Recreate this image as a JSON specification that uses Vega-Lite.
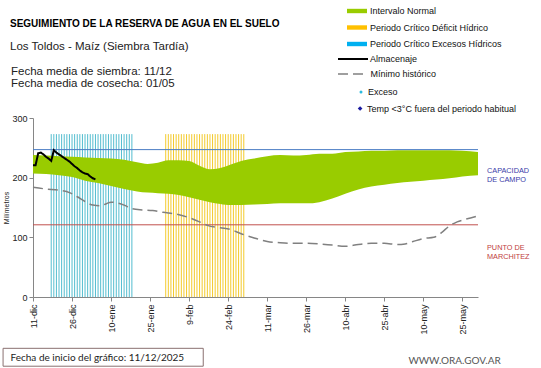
{
  "$schema": "https://vega.github.io/schema/vega-lite/v6.json",
  "width": 445,
  "height": 179,
  "autosize": {"type": "none"},
  "padding": {"left": 33, "top": 118, "right": 63, "bottom": 71},
  "background": "white",
  "title": {
    "text": "SEGUIMIENTO DE LA RESERVA DE AGUA  EN EL SUELO",
    "subtitle": "Los Toldos - Maíz  (Siembra Tardía)",
    "anchor": "start",
    "frame": "group",
    "dx": -23,
    "offset": -51.5,
    "font": "Liberation Sans",
    "fontSize": 10,
    "fontWeight": "bold",
    "color": "#000000",
    "subtitleFont": "Liberation Sans",
    "subtitleFontSize": 11.5,
    "subtitleColor": "#222222",
    "subtitlePadding": 12
  },
  "resolve": {"scale": {"strokeDash": "independent"}, "legend": {"strokeDash": "independent"}},
  "datasets": {
    "banda": [
      {"fecha": "2025-12-11", "min": 207, "max": 238},
      {"fecha": "2025-12-16", "min": 206, "max": 237},
      {"fecha": "2025-12-21", "min": 204, "max": 236},
      {"fecha": "2025-12-26", "min": 201, "max": 235},
      {"fecha": "2025-12-31", "min": 195, "max": 234},
      {"fecha": "2026-01-05", "min": 191, "max": 233},
      {"fecha": "2026-01-10", "min": 186, "max": 232},
      {"fecha": "2026-01-15", "min": 181, "max": 230},
      {"fecha": "2026-01-20", "min": 177, "max": 226},
      {"fecha": "2026-01-24", "min": 175, "max": 223},
      {"fecha": "2026-01-28", "min": 174, "max": 225},
      {"fecha": "2026-02-01", "min": 173, "max": 229},
      {"fecha": "2026-02-05", "min": 171, "max": 229},
      {"fecha": "2026-02-09", "min": 167, "max": 228},
      {"fecha": "2026-02-13", "min": 163, "max": 220},
      {"fecha": "2026-02-17", "min": 159, "max": 214},
      {"fecha": "2026-02-21", "min": 156, "max": 216},
      {"fecha": "2026-02-25", "min": 154, "max": 222},
      {"fecha": "2026-03-01", "min": 154, "max": 228},
      {"fecha": "2026-03-06", "min": 155, "max": 232},
      {"fecha": "2026-03-11", "min": 156, "max": 236},
      {"fecha": "2026-03-16", "min": 157, "max": 238},
      {"fecha": "2026-03-21", "min": 157, "max": 237},
      {"fecha": "2026-03-26", "min": 157, "max": 238},
      {"fecha": "2026-03-31", "min": 159, "max": 240},
      {"fecha": "2026-04-05", "min": 165, "max": 240},
      {"fecha": "2026-04-10", "min": 173, "max": 243},
      {"fecha": "2026-04-15", "min": 180, "max": 244},
      {"fecha": "2026-04-20", "min": 185, "max": 245},
      {"fecha": "2026-04-25", "min": 188, "max": 245},
      {"fecha": "2026-04-30", "min": 191, "max": 246},
      {"fecha": "2026-05-05", "min": 193, "max": 246},
      {"fecha": "2026-05-10", "min": 195, "max": 246},
      {"fecha": "2026-05-15", "min": 197, "max": 246},
      {"fecha": "2026-05-20", "min": 199, "max": 246},
      {"fecha": "2026-05-25", "min": 202, "max": 245},
      {"fecha": "2026-05-31", "min": 204, "max": 243}
    ],
    "almacenaje": [
      {"fecha": "2025-12-11", "valor": 221},
      {"fecha": "2025-12-12", "valor": 221},
      {"fecha": "2025-12-13", "valor": 241},
      {"fecha": "2025-12-14", "valor": 242},
      {"fecha": "2025-12-15", "valor": 239},
      {"fecha": "2025-12-16", "valor": 235},
      {"fecha": "2025-12-17", "valor": 232},
      {"fecha": "2025-12-18", "valor": 228},
      {"fecha": "2025-12-19", "valor": 246},
      {"fecha": "2025-12-20", "valor": 242},
      {"fecha": "2025-12-21", "valor": 239},
      {"fecha": "2025-12-22", "valor": 236},
      {"fecha": "2025-12-23", "valor": 233},
      {"fecha": "2025-12-24", "valor": 230},
      {"fecha": "2025-12-25", "valor": 227},
      {"fecha": "2025-12-26", "valor": 223},
      {"fecha": "2025-12-27", "valor": 219},
      {"fecha": "2025-12-28", "valor": 216},
      {"fecha": "2025-12-29", "valor": 212},
      {"fecha": "2025-12-30", "valor": 209},
      {"fecha": "2025-12-31", "valor": 207},
      {"fecha": "2026-01-01", "valor": 206},
      {"fecha": "2026-01-02", "valor": 202},
      {"fecha": "2026-01-03", "valor": 199},
      {"fecha": "2026-01-04", "valor": 197}
    ],
    "minimo": [
      {"fecha": "2025-12-11", "valor": 184},
      {"fecha": "2025-12-16", "valor": 181},
      {"fecha": "2025-12-21", "valor": 179},
      {"fecha": "2025-12-25", "valor": 175},
      {"fecha": "2025-12-28", "valor": 168},
      {"fecha": "2025-12-31", "valor": 160},
      {"fecha": "2026-01-03", "valor": 154},
      {"fecha": "2026-01-06", "valor": 153},
      {"fecha": "2026-01-08", "valor": 156},
      {"fecha": "2026-01-10", "valor": 159},
      {"fecha": "2026-01-12", "valor": 158},
      {"fecha": "2026-01-15", "valor": 154},
      {"fecha": "2026-01-18", "valor": 148},
      {"fecha": "2026-01-22", "valor": 146},
      {"fecha": "2026-01-26", "valor": 145},
      {"fecha": "2026-01-30", "valor": 142},
      {"fecha": "2026-02-04", "valor": 139},
      {"fecha": "2026-02-09", "valor": 133},
      {"fecha": "2026-02-13", "valor": 126},
      {"fecha": "2026-02-16", "valor": 120},
      {"fecha": "2026-02-21", "valor": 116},
      {"fecha": "2026-02-25", "valor": 113},
      {"fecha": "2026-03-01", "valor": 106},
      {"fecha": "2026-03-06", "valor": 99},
      {"fecha": "2026-03-11", "valor": 93},
      {"fecha": "2026-03-16", "valor": 91},
      {"fecha": "2026-03-21", "valor": 90},
      {"fecha": "2026-03-26", "valor": 90},
      {"fecha": "2026-03-31", "valor": 89},
      {"fecha": "2026-04-05", "valor": 87},
      {"fecha": "2026-04-10", "valor": 85},
      {"fecha": "2026-04-15", "valor": 88},
      {"fecha": "2026-04-20", "valor": 90},
      {"fecha": "2026-04-25", "valor": 90},
      {"fecha": "2026-04-30", "valor": 88},
      {"fecha": "2026-05-03", "valor": 89},
      {"fecha": "2026-05-06", "valor": 93},
      {"fecha": "2026-05-10", "valor": 98},
      {"fecha": "2026-05-14", "valor": 100},
      {"fecha": "2026-05-17", "valor": 108},
      {"fecha": "2026-05-20", "valor": 119},
      {"fecha": "2026-05-23", "valor": 126},
      {"fecha": "2026-05-26", "valor": 130},
      {"fecha": "2026-05-31", "valor": 136}
    ],
    "criticos": [
      {"fecha": "2025-12-18", "periodo": "Excesos"},
      {"fecha": "2025-12-19", "periodo": "Excesos"},
      {"fecha": "2025-12-20", "periodo": "Excesos"},
      {"fecha": "2025-12-21", "periodo": "Excesos"},
      {"fecha": "2025-12-22", "periodo": "Excesos"},
      {"fecha": "2025-12-23", "periodo": "Excesos"},
      {"fecha": "2025-12-24", "periodo": "Excesos"},
      {"fecha": "2025-12-25", "periodo": "Excesos"},
      {"fecha": "2025-12-26", "periodo": "Excesos"},
      {"fecha": "2025-12-27", "periodo": "Excesos"},
      {"fecha": "2025-12-28", "periodo": "Excesos"},
      {"fecha": "2025-12-29", "periodo": "Excesos"},
      {"fecha": "2025-12-30", "periodo": "Excesos"},
      {"fecha": "2025-12-31", "periodo": "Excesos"},
      {"fecha": "2026-01-01", "periodo": "Excesos"},
      {"fecha": "2026-01-02", "periodo": "Excesos"},
      {"fecha": "2026-01-03", "periodo": "Excesos"},
      {"fecha": "2026-01-04", "periodo": "Excesos"},
      {"fecha": "2026-01-05", "periodo": "Excesos"},
      {"fecha": "2026-01-06", "periodo": "Excesos"},
      {"fecha": "2026-01-07", "periodo": "Excesos"},
      {"fecha": "2026-01-08", "periodo": "Excesos"},
      {"fecha": "2026-01-09", "periodo": "Excesos"},
      {"fecha": "2026-01-10", "periodo": "Excesos"},
      {"fecha": "2026-01-11", "periodo": "Excesos"},
      {"fecha": "2026-01-12", "periodo": "Excesos"},
      {"fecha": "2026-01-13", "periodo": "Excesos"},
      {"fecha": "2026-01-14", "periodo": "Excesos"},
      {"fecha": "2026-01-15", "periodo": "Excesos"},
      {"fecha": "2026-01-16", "periodo": "Excesos"},
      {"fecha": "2026-01-17", "periodo": "Excesos"},
      {"fecha": "2026-01-18", "periodo": "Excesos"},
      {"fecha": "2026-01-31", "periodo": "Déficit"},
      {"fecha": "2026-02-01", "periodo": "Déficit"},
      {"fecha": "2026-02-02", "periodo": "Déficit"},
      {"fecha": "2026-02-03", "periodo": "Déficit"},
      {"fecha": "2026-02-04", "periodo": "Déficit"},
      {"fecha": "2026-02-05", "periodo": "Déficit"},
      {"fecha": "2026-02-06", "periodo": "Déficit"},
      {"fecha": "2026-02-07", "periodo": "Déficit"},
      {"fecha": "2026-02-08", "periodo": "Déficit"},
      {"fecha": "2026-02-09", "periodo": "Déficit"},
      {"fecha": "2026-02-10", "periodo": "Déficit"},
      {"fecha": "2026-02-11", "periodo": "Déficit"},
      {"fecha": "2026-02-12", "periodo": "Déficit"},
      {"fecha": "2026-02-13", "periodo": "Déficit"},
      {"fecha": "2026-02-14", "periodo": "Déficit"},
      {"fecha": "2026-02-15", "periodo": "Déficit"},
      {"fecha": "2026-02-16", "periodo": "Déficit"},
      {"fecha": "2026-02-17", "periodo": "Déficit"},
      {"fecha": "2026-02-18", "periodo": "Déficit"},
      {"fecha": "2026-02-19", "periodo": "Déficit"},
      {"fecha": "2026-02-20", "periodo": "Déficit"},
      {"fecha": "2026-02-21", "periodo": "Déficit"},
      {"fecha": "2026-02-22", "periodo": "Déficit"},
      {"fecha": "2026-02-23", "periodo": "Déficit"},
      {"fecha": "2026-02-24", "periodo": "Déficit"},
      {"fecha": "2026-02-25", "periodo": "Déficit"},
      {"fecha": "2026-02-26", "periodo": "Déficit"},
      {"fecha": "2026-02-27", "periodo": "Déficit"},
      {"fecha": "2026-02-28", "periodo": "Déficit"},
      {"fecha": "2026-03-01", "periodo": "Déficit"},
      {"fecha": "2026-03-02", "periodo": "Déficit"}
    ],
    "umbrales": [
      {"nombre": "Capacidad de campo", "valor": 247, "etiqueta": "CAPACIDAD\nDE  CAMPO"},
      {"nombre": "Punto de marchitez", "valor": 121, "etiqueta": "PUNTO  DE\nMARCHITEZ"}
    ],
    "excesos": [],
    "temp_bajas": [],
    "cultivo": [
      {"fechas": "Fecha media de siembra: 11/12\nFecha media de cosecha: 01/05"}
    ],
    "pie": [
      {"inicio": "11/12/2025", "sitio": "WWW.ORA.GOV.AR"}
    ]
  },
  "layer": [
    {
      "data": {"name": "criticos"},
      "mark": {"type": "rule", "strokeWidth": 0.9},
      "encoding": {
        "x": {
          "field": "fecha",
          "type": "temporal",
          "scale": {
            "type": "utc",
            "domain": [
              {"year": 2025, "month": 12, "date": 11, "utc": true},
              {"year": 2026, "month": 5, "date": 31, "utc": true}
            ]
          },
          "axis": {
            "values": [
              {"year": 2025, "month": 12, "date": 11, "utc": true},
              {"year": 2025, "month": 12, "date": 26, "utc": true},
              {"year": 2026, "month": 1, "date": 10, "utc": true},
              {"year": 2026, "month": 1, "date": 25, "utc": true},
              {"year": 2026, "month": 2, "date": 9, "utc": true},
              {"year": 2026, "month": 2, "date": 24, "utc": true},
              {"year": 2026, "month": 3, "date": 11, "utc": true},
              {"year": 2026, "month": 3, "date": 26, "utc": true},
              {"year": 2026, "month": 4, "date": 10, "utc": true},
              {"year": 2026, "month": 4, "date": 25, "utc": true},
              {"year": 2026, "month": 5, "date": 10, "utc": true},
              {"year": 2026, "month": 5, "date": 25, "utc": true}
            ],
            "labelExpr": "utcFormat(datum.value, '%-d') + '-' + ['ene','feb','mar','abr','may','jun','jul','ago','sep','oct','nov','dic'][utcmonth(datum.value)]",
            "labelAngle": 270,
            "labelAlign": "right",
            "labelBaseline": "middle",
            "labelFontSize": 9,
            "labelPadding": 3,
            "labelOverlap": false,
            "labelFlush": false,
            "tickSize": 4,
            "grid": false,
            "title": "Fecha de inicio del gráfico:  11/12/2025",
            "titleFont": "Lato",
            "titleFontSize": 10,
            "titleFontWeight": "normal",
            "titleColor": "#222222",
            "titleAlign": "left",
            "titleAnchor": "start",
            "titleBaseline": "middle",
            "titleAngle": 0,
            "titleX": -23,
            "titleY": 60
          }
        },
        "y": {
          "datum": 0,
          "type": "quantitative",
          "scale": {"domain": [0, 300], "nice": false},
          "axis": {
            "values": [0, 50, 100, 150, 200, 250, 300],
            "labelFontSize": 9,
            "tickSize": 4,
            "labelPadding": 2,
            "grid": false,
            "title": "Milímetros",
            "titleFontSize": 7,
            "titleFontWeight": "normal",
            "titleColor": "#222222",
            "titlePadding": 2
          }
        },
        "y2": {"datum": 273},
        "stroke": {
          "field": "periodo",
          "type": "nominal",
          "scale": {"domain": ["Excesos", "Déficit", "Capacidad de campo", "Punto de marchitez"], "range": ["#3fb6ca", "#f2c414", "#4a7cc4", "#c0504d"]},
          "legend": null
        }
      }
    },
    {
      "data": {"name": "banda"},
      "mark": {"type": "area", "opacity": 1, "interpolate": "monotone", "strokeWidth": 0},
      "encoding": {
        "x": {"field": "fecha", "type": "temporal"},
        "y": {"field": "min", "type": "quantitative"},
        "y2": {"field": "max"},
        "fill": {
          "datum": "Intervalo Normal",
          "type": "nominal",
          "scale": {
            "domain": ["Intervalo Normal", "Periodo Crítico Déficit Hídrico", "Periodo Crítico Excesos Hídricos"],
            "range": ["#99cc00", "#ffc000", "#00b0f0"]
          },
          "legend": {
            "orient": "none",
            "legendX": 314,
            "legendY": -117,
            "title": null,
            "symbolType": "M-1,-0.22H1V0.22H-1Z",
            "symbolSize": 400,
            "symbolStrokeWidth": 0,
            "symbolOpacity": 1,
            "labelOffset": 3,
            "rowPadding": 1.5
          }
        }
      }
    },
    {
      "data": {"name": "umbrales"},
      "mark": {"type": "rule", "strokeWidth": 1},
      "encoding": {
        "y": {"field": "valor", "type": "quantitative"},
        "stroke": {"field": "nombre", "type": "nominal", "legend": null}
      }
    },
    {
      "data": {"name": "minimo"},
      "mark": {"type": "line", "strokeWidth": 1.5, "color": "#808080", "interpolate": "monotone"},
      "encoding": {
        "x": {"field": "fecha", "type": "temporal"},
        "y": {"field": "valor", "type": "quantitative"},
        "strokeDash": {
          "datum": "Mínimo histórico",
          "type": "nominal",
          "scale": {"domain": ["Mínimo histórico"], "range": [[10, 5]]},
          "legend": {
            "orient": "none",
            "legendX": 304,
            "legendY": -60,
            "title": null,
            "symbolType": "stroke",
            "symbolSize": 900,
            "symbolStrokeWidth": 1.5,
            "symbolStrokeColor": "#808080",
            "labelOffset": 1.5
          }
        }
      }
    },
    {
      "data": {"name": "almacenaje"},
      "mark": {"type": "line", "strokeWidth": 2, "color": "#000000"},
      "encoding": {
        "x": {"field": "fecha", "type": "temporal"},
        "y": {"field": "valor", "type": "quantitative"},
        "strokeDash": {
          "datum": "Almacenaje",
          "type": "nominal",
          "scale": {"domain": ["Almacenaje"], "range": [[1, 0]]},
          "legend": {
            "orient": "none",
            "legendX": 304,
            "legendY": -75,
            "title": null,
            "symbolType": "stroke",
            "symbolSize": 900,
            "symbolStrokeWidth": 2,
            "symbolStrokeColor": "#000000",
            "labelOffset": 1
          }
        }
      }
    },
    {
      "data": {"name": "excesos"},
      "mark": {"type": "point", "filled": true, "color": "#2bbbe0", "opacity": 1},
      "encoding": {
        "x": {"field": "fecha", "type": "temporal"},
        "y": {"field": "valor", "type": "quantitative"},
        "shape": {
          "datum": "Exceso",
          "type": "nominal",
          "scale": {"domain": ["Exceso"], "range": ["circle"]},
          "legend": {
            "orient": "none",
            "legendX": 335.5,
            "legendY": -30.5,
            "title": null,
            "symbolSize": 9,
            "symbolFillColor": "#2bbbe0",
            "symbolStrokeWidth": 0,
            "symbolOpacity": 1,
            "symbolOffset": -12,
            "labelOffset": 2.5
          }
        }
      }
    },
    {
      "data": {"name": "temp_bajas"},
      "mark": {"type": "point", "filled": true, "shape": "diamond", "color": "#1c1ca0", "opacity": 1},
      "encoding": {
        "x": {"field": "fecha", "type": "temporal"},
        "y": {"field": "valor", "type": "quantitative"},
        "size": {
          "datum": "Temp <3°C fuera del periodo habitual",
          "type": "ordinal",
          "scale": {"domain": ["Temp <3°C fuera del periodo habitual"], "range": [22, 22]},
          "legend": {
            "orient": "none",
            "legendX": 333.8,
            "legendY": -14,
            "title": null,
            "symbolType": "diamond",
            "symbolFillColor": "#1c1ca0",
            "symbolStrokeWidth": 0,
            "symbolOpacity": 1,
            "symbolOffset": -11.2,
            "labelOffset": 2.5
          }
        }
      }
    },
    {
      "data": {"name": "umbrales"},
      "transform": [{"filter": "datum.nombre === 'Capacidad de campo'"}],
      "mark": {"type": "text", "align": "left", "baseline": "middle", "dx": 9, "dy": 21.5, "font": "Liberation Sans", "fontSize": 7.3, "lineHeight": 9, "lineBreak": "\n", "color": "#3b3ba8"},
      "encoding": {
        "x": {"datum": {"year": 2026, "month": 5, "date": 31, "utc": true}, "type": "temporal"},
        "y": {"field": "valor", "type": "quantitative"},
        "text": {"field": "etiqueta"}
      }
    },
    {
      "data": {"name": "umbrales"},
      "transform": [{"filter": "datum.nombre === 'Punto de marchitez'"}],
      "mark": {"type": "text", "align": "left", "baseline": "middle", "dx": 9, "dy": 23, "font": "Liberation Sans", "fontSize": 7.3, "lineHeight": 9, "lineBreak": "\n", "color": "#c04040"},
      "encoding": {
        "x": {"datum": {"year": 2026, "month": 5, "date": 31, "utc": true}, "type": "temporal"},
        "y": {"field": "valor", "type": "quantitative"},
        "text": {"field": "etiqueta"}
      }
    },
    {
      "data": {"name": "cultivo"},
      "mark": {"type": "text", "align": "left", "baseline": "middle", "dx": -22, "dy": -46.5, "font": "Liberation Sans", "fontSize": 11.5, "lineHeight": 12.5, "lineBreak": "\n", "color": "#222222"},
      "encoding": {
        "x": {"datum": {"year": 2025, "month": 12, "date": 11, "utc": true}, "type": "temporal"},
        "y": {"datum": 300, "type": "quantitative"},
        "text": {"field": "fechas"}
      }
    },
    {
      "data": {"name": "pie"},
      "mark": {"type": "text", "align": "center", "baseline": "middle", "font": "Lato", "fontSize": 10, "color": "#555555"},
      "encoding": {
        "x": {"datum": {"year": 2026, "month": 5, "date": 22, "utc": true}, "type": "temporal"},
        "y": {"datum": -107, "type": "quantitative"},
        "text": {"field": "sitio"}
      }
    },
    {
      "data": {"name": "pie"},
      "mark": {"type": "rect", "fill": "transparent", "stroke": "#8a7070", "strokeWidth": 1},
      "encoding": {
        "x": {"datum": {"year": 2025, "month": 11, "date": 29, "hours": 12, "utc": true}, "type": "temporal"},
        "x2": {"datum": {"year": 2026, "month": 2, "date": 14, "hours": 10, "utc": true}},
        "y": {"datum": -86, "type": "quantitative"},
        "y2": {"datum": -116}
      }
    }
  ],
  "config": {
    "view": {"stroke": null},
    "axis": {
      "labelFont": "Liberation Sans",
      "labelColor": "#222222",
      "titleFont": "Liberation Sans",
      "domainColor": "#868686",
      "tickColor": "#868686"
    },
    "legend": {
      "padding": 0,
      "labelFont": "Liberation Sans",
      "labelFontSize": 9,
      "labelColor": "#111111",
      "labelLimit": 300
    }
  }
}
